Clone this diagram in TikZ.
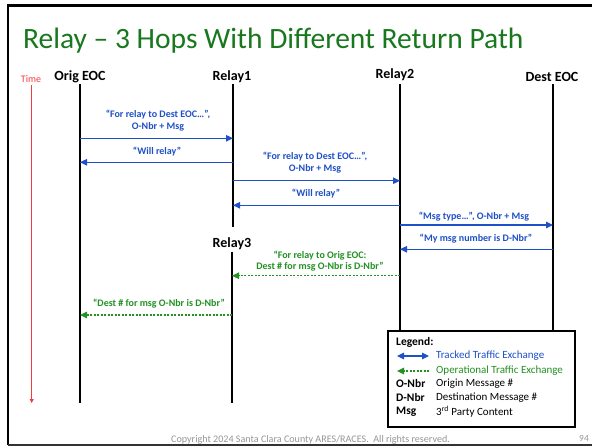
\documentclass[tikz,border=0pt]{standalone}
\usepackage{fontspec}
\setmainfont{Carlito}
\usetikzlibrary{arrows.meta}
\definecolor{ttlgreen}{RGB}{25,120,30}
\definecolor{msgblue}{RGB}{30,80,200}
\definecolor{msggreen}{RGB}{35,145,35}
\definecolor{timered}{RGB}{245,60,60}
\definecolor{footgray}{RGB}{150,150,150}
\begin{document}
\begin{tikzpicture}[x=1pt,y=-1pt,
  lifeline/.style={line width=2pt,black},
  actor/.style={font=\fontsize{14}{16}\selectfont\bfseries,inner sep=0pt},
  tracked/.style={msgblue,line width=1.1pt,-{Triangle[length=7pt,width=6.5pt]}},
  trackedboth/.style={msgblue,line width=1.1pt,{Triangle[length=7pt,width=6.5pt]}-{Triangle[length=7pt,width=6.5pt]}},
  oper/.style={msggreen,line width=1.1pt,dash pattern=on 2pt off 1.5pt,-{Triangle[length=7pt,width=6.5pt]}},
  bluelbl/.style={msgblue,font=\fontsize{10}{11.5}\selectfont\bfseries,align=center,inner sep=0pt},
  greenlbl/.style={msggreen,font=\fontsize{10}{11.5}\selectfont\bfseries,align=center,inner sep=0pt},
  legtxt/.style={font=\fontsize{11}{13}\selectfont,inner sep=0pt,anchor=west},
  legkey/.style={font=\fontsize{11.5}{13}\selectfont\bfseries,inner sep=0pt,anchor=west}
]
\useasboundingbox (0,0) rectangle (592,447);
\fill[white] (0,0) rectangle (592,447);
% slide frame
\draw[line width=2.5pt,black] (600,5.5) -- (8,5.5) -- (8,445);
\draw[line width=1.5pt,black!80] (8,445) -- (600,445);
% title
\node[ttlgreen,font=\fontsize{29.5}{34}\selectfont,inner sep=0pt,anchor=base west] (title) at (23,48) {Relay – 3 Hops With Different Return Path};
% time axis
\node[timered,font=\fontsize{10}{12}\selectfont,inner sep=0pt] (time) at (31,79) {Time};
\coordinate (T) at (31.7,85);
\coordinate (Tend) at (31.7,403);
\draw[timered,line width=0.8pt,-{Triangle[length=4pt,width=4pt]}] (T) -- (Tend);
% actors
\node[actor] (origL) at (80,77) {Orig EOC};
\node[actor] (r1L) at (232,77) {Relay1};
\node[actor] (r2L) at (395,75) {Relay2};
\node[actor] (destL) at (552,77) {Dest EOC};
\node[actor] (r3L) at (232,244) {Relay3};
% lifeline coordinates
\coordinate (O) at (80,84);
\coordinate (R1) at (233,84);
\coordinate (R2) at (400,84);
\coordinate (D) at (553,84);
\coordinate (R3) at (232,252);
\coordinate (bot) at (0,403);
\coordinate (r1bot) at (0,227);
\coordinate (legtop) at (0,330);
\draw[lifeline] (O) -- (O |- bot);
\draw[lifeline] (R1) -- (R1 |- r1bot);
\draw[lifeline] (R2) -- (R2 |- legtop);
\draw[lifeline] (D) -- (D |- legtop);
\draw[lifeline] (R3) -- (R3 |- bot);
% message levels
\coordinate (m1) at (0,138.3);
\coordinate (m2) at (0,162.3);
\coordinate (m3) at (0,180.7);
\coordinate (m4) at (0,205.3);
\coordinate (m5) at (0,225);
\coordinate (m6) at (0,249.3);
\coordinate (m7) at (0,275.7);
\coordinate (m8) at (0,315);
% messages
\draw[tracked] (O |- m1) -- (R1 |- m1);
\node[bluelbl] (l1) at (158,120.5) {“For relay to Dest EOC…”,\\O-Nbr + Msg};
\draw[tracked] (R1 |- m2) -- (O |- m2);
\node[bluelbl] (l2) at (157,151.7) {“Will relay”};
\draw[tracked] (R1 |- m3) -- (R2 |- m3);
\node[bluelbl] (l3) at (315,162.5) {“For relay to Dest EOC…”,\\O-Nbr + Msg};
\draw[tracked] (R2 |- m4) -- (R1 |- m4);
\node[bluelbl] (l4) at (316,194) {“Will relay”};
\draw[tracked] (R2 |- m5) -- (D |- m5);
\node[bluelbl] (l5) at (474,216.7) {“Msg type…”, O-Nbr + Msg};
\draw[tracked] (D |- m6) -- (R2 |- m6);
\node[bluelbl] (l6) at (476,238.3) {“My msg number is D-Nbr”};
\draw[oper] (R2 |- m7) -- (R3 |- m7);
\node[greenlbl] (l7) at (320,261.3) {“For relay to Orig EOC:\\Dest \# for msg O-Nbr is D-Nbr”};
\draw[oper] (R3 |- m8) -- (O |- m8);
\node[greenlbl] (l8) at (159,304) {“Dest \# for msg O-Nbr is D-Nbr”};
% legend
\node[draw,line width=1.5pt,fill=white,minimum width=187,minimum height=96,inner sep=0pt,anchor=north west] (legend) at (387,330) {};
\node[legkey] (legT) at (396,342) {Legend:};
\coordinate (k1a) at (397,356);
\coordinate (k1b) at (429,356);
\draw[trackedboth] (k1a) -- (k1b);
\node[legtxt,msgblue] (legTr) at (436,356) {Tracked Traffic Exchange};
\coordinate (k2a) at (429,371);
\coordinate (k2b) at (397,371);
\draw[oper] (k2a) -- (k2b);
\node[legtxt,msggreen] (legOp) at (436,371) {Operational Traffic Exchange};
\node[legkey] (kO) at (396,384) {O-Nbr};
\node[legtxt] (vO) at (436,384) {Origin Message \#};
\node[legkey] (kD) at (396,398) {D-Nbr};
\node[legtxt] (vD) at (436,398) {Destination Message \#};
\node[legkey] (kM) at (396,412) {Msg};
\node[legtxt] (vM) at (436,412) {3\textsuperscript{rd} Party Content};
% footer
\node[footgray,font=\fontsize{10.1}{12}\selectfont,inner sep=0pt,anchor=west] (foot) at (171,440) {Copyright 2024 Santa Clara County ARES/RACES.\ \ All rights reserved.};
\node[footgray,font=\fontsize{9.4}{11}\selectfont,inner sep=0pt] (pg) at (584,438) {94};
\end{tikzpicture}
\end{document}
